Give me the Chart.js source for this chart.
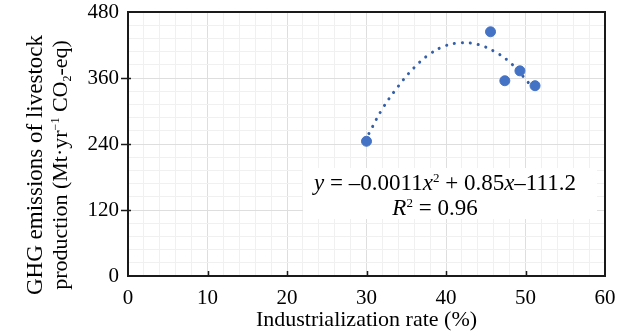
<html>
<head>
<title>GHG emissions vs industrialization rate</title>
<script src="https://cdn.jsdelivr.net/npm/chart.js"></script>
<style>
  body { margin: 0; padding: 0; background: #ffffff; }
  #wrap { width: 638px; height: 335px; }
</style>
</head>
<body>
<div id="wrap"><canvas id="chart" width="638" height="335"></canvas></div>
<script>
  // observed points (industrialization rate %, emissions Mt/yr CO2-eq)
  const rateX = [30, 45.6, 47.4, 49.3, 51.2];
  const emissionsY = [245, 444, 355, 373, 346];

  // dotted trend curve
  const trendX = [30.3, 32, 34, 36, 38, 40, 42, 44, 46, 48, 50, 50.5];
  const trendY = [259, 304, 345, 379, 404, 419, 424, 421, 409, 389, 358, 349];

  const xMajor = [0, 10, 20, 30, 40, 50, 60];
  const yMajor = [0, 120, 240, 360, 480];

  const serif = '"Liberation Serif", "Times New Roman", serif';
  const minorGrid = '#f0f0f0';
  const majorGrid = '#dedede';

  // draws a line of text made of plain / italic / sup / sub pieces
  function drawRich(ctx, segs, cx, y, size) {
    const fontOf = s => (s.it ? 'italic ' : '') + (s.sup || s.sub ? Math.round(size * 0.55) : size) + 'px ' + serif;
    let total = 0;
    segs.forEach(s => { ctx.font = fontOf(s); total += ctx.measureText(s.t).width; });
    let x = cx - total / 2;
    ctx.textAlign = 'left';
    ctx.textBaseline = 'alphabetic';
    segs.forEach(s => {
      ctx.font = fontOf(s);
      let dy = 0;
      if (s.sup) dy = -size * 0.36;
      if (s.sub) dy = size * 0.2;
      ctx.fillText(s.t, x, y + dy);
      x += ctx.measureText(s.t).width;
    });
  }

  const extras = {
    id: 'extras',
    beforeDatasetsDraw(chart) {
      const ctx = chart.ctx;
      // equation box
      ctx.save();
      ctx.fillStyle = '#ffffff';
      ctx.fillRect(303, 168, 294, 51);
      ctx.fillStyle = '#000000';
      drawRich(ctx, [
        { t: 'y', it: true }, { t: ' = \u20130.0011' }, { t: 'x', it: true }, { t: '2', sup: true },
        { t: ' + 0.85' }, { t: 'x', it: true }, { t: '\u2013111.2' }
      ], 445, 190, 23);
      drawRich(ctx, [
        { t: 'R', it: true }, { t: '2', sup: true }, { t: ' = 0.96' }
      ], 435, 215, 23);
      ctx.restore();
    },
    afterDraw(chart) {
      const ctx = chart.ctx;
      const a = chart.chartArea;
      const xs = chart.scales.x, ys = chart.scales.y;
      ctx.save();
      // frame
      ctx.strokeStyle = '#1a1a1a';
      ctx.lineWidth = 2;
      ctx.strokeRect(a.left, a.top, a.right - a.left, a.bottom - a.top);
      // tick marks
      ctx.lineWidth = 1.5;
      ctx.beginPath();
      xMajor.slice(1, -1).forEach(v => {
        const px = Math.round(xs.getPixelForValue(v)) + 0.5;
        ctx.moveTo(px, a.bottom);
        ctx.lineTo(px, a.bottom - 5);
      });
      yMajor.slice(1, -1).forEach(v => {
        const py = Math.round(ys.getPixelForValue(v)) + 0.5;
        ctx.moveTo(a.left - 7, py);
        ctx.lineTo(a.left + 3, py);
      });
      ctx.stroke();
      // y axis title, two lines rotated
      ctx.fillStyle = '#000000';
      ctx.translate(0, 165);
      ctx.rotate(-Math.PI / 2);
      ctx.font = '23px ' + serif;
      ctx.textAlign = 'center';
      ctx.fillText('GHG emissions of livestock', 0, 42);
      drawRich(ctx, [
        { t: 'production (Mt\u00b7yr' }, { t: '\u22121', sup: true }, { t: ' CO' }, { t: '2', sub: true }, { t: '-eq)' }
      ], 0, 67, 22);
      ctx.restore();
    }
  };

  const ctx = document.getElementById('chart').getContext('2d');
  const chart = new Chart(ctx, {
    type: 'scatter',
    data: {
      datasets: [
        {
          label: 'Trend',
          data: trendX.map((x, i) => ({ x: x, y: trendY[i] })),
          showLine: true,
          tension: 0.4,
          borderColor: '#3560a8',
          borderWidth: 3,
          borderDash: [0.1, 7.9],
          borderCapStyle: 'round',
          pointRadius: 0,
          order: 2
        },
        {
          label: 'Observed',
          data: rateX.map((x, i) => ({ x: x, y: emissionsY[i] })),
          backgroundColor: '#4472c4',
          borderColor: '#4472c4',
          pointRadius: 5,
          order: 1
        }
      ]
    },
    options: {
      responsive: false,
      animation: false,
      layout: { padding: { left: 0, right: 33, top: 12, bottom: 0 } },
      plugins: {
        legend: { display: false },
        tooltip: { enabled: false }
      },
      scales: {
        x: {
          type: 'linear',
          min: 0,
          max: 60,
          afterFit: s => { s.height = 59; s.paddingLeft = 0; s.paddingRight = 0; },
          border: { display: false },
          grid: {
            drawTicks: false,
            color: c => (c.tick && c.tick.value % 10 === 0) ? majorGrid : minorGrid
          },
          ticks: {
            stepSize: 2,
            autoSkip: false,
            maxRotation: 0,
            padding: 10,
            color: '#000000',
            font: { family: serif, size: 21 },
            callback: v => (v % 10 === 0 ? v : '')
          },
          title: {
            display: true,
            text: 'Industrialization rate (%)',
            color: '#000000',
            font: { family: serif, size: 22 },
            padding: { top: 0, bottom: 2 }
          }
        },
        y: {
          type: 'linear',
          min: 0,
          max: 480,
          afterFit: s => { s.width = 128; s.paddingTop = 0; s.paddingBottom = 0; },
          border: { display: false },
          grid: {
            drawTicks: false,
            color: c => (c.tick && c.tick.value % 120 === 0) ? majorGrid : minorGrid
          },
          ticks: {
            stepSize: 24,
            autoSkip: false,
            padding: 9,
            color: '#000000',
            font: { family: serif, size: 21 },
            callback: v => (v % 120 === 0 ? v : '')
          }
        }
      }
    },
    plugins: [extras]
  });
</script>
</body>
</html>
